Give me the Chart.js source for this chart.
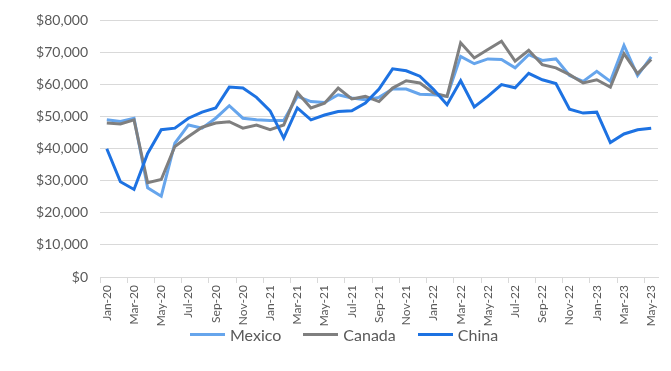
<!DOCTYPE html>
<html>
<head>
<meta charset="utf-8">
<script src="https://cdn.jsdelivr.net/npm/chart.js@4.4.1/dist/chart.umd.min.js"></script>
<style>
    html, body { margin: 0; padding: 0; background: #ffffff; }
    #wrap { width: 671px; height: 371px; position: relative; }
    #legend {
        position: absolute;
        left: 190px;
        top: 323px;
        display: flex;
        gap: 22px;
        font-family: Lato, sans-serif;
        font-size: 16px;
        color: #595959;
    }
    #legend .item { display: flex; align-items: center; gap: 5px; height: 22px; }
    #legend .swatch { width: 35px; height: 3px; }
</style>
</head>
<body>
<div id="wrap">
    <canvas id="tradeChart"></canvas>
    <div id="legend"></div>
</div>
<script>

const months = [
    "Jan-20", "Feb-20", "Mar-20", "Apr-20", "May-20", "Jun-20", "Jul-20", "Aug-20", "Sep-20", "Oct-20", "Nov-20", "Dec-20",
    "Jan-21", "Feb-21", "Mar-21", "Apr-21", "May-21", "Jun-21", "Jul-21", "Aug-21", "Sep-21", "Oct-21", "Nov-21", "Dec-21",
    "Jan-22", "Feb-22", "Mar-22", "Apr-22", "May-22", "Jun-22", "Jul-22", "Aug-22", "Sep-22", "Oct-22", "Nov-22", "Dec-22",
    "Jan-23", "Feb-23", "Mar-23", "Apr-23", "May-23"
];

const mexico = [
    49000, 48500, 49500, 27800, 25200, 41700, 47400, 46400, 49500, 53400, 49500, 49000,
    48800, 48800, 56300, 54700, 54400, 56800, 55800, 55300, 56000, 58600, 58600, 57000,
    56800, 56300, 68800, 66500, 68000, 67800, 65200, 69300, 67500, 68000, 62800, 61000,
    64100, 61000, 72200, 62800, 68600
];

const canada = [
    48000, 47700, 49000, 29400, 30400, 40700, 43800, 46700, 48000, 48400, 46400, 47400,
    45900, 47400, 57500, 52700, 54200, 58900, 55500, 56300, 54700, 58900, 61200, 60500,
    57400, 56300, 73000, 68300, 70900, 73500, 67300, 70700, 66200, 65200, 63100, 60500,
    61500, 59200, 69600, 63400, 67800
];

const china = [
    40000, 29700, 27300, 38500, 45900, 46400, 49500, 51400, 52700, 59200, 58900, 56000,
    51800, 43300, 52700, 49000, 50500, 51600, 51800, 54200, 58600, 64900, 64300, 62600,
    58500, 53700, 61200, 53000, 56300, 60000, 59000, 63500, 61500, 60300, 52300, 51100,
    51400, 41900, 44600, 45900, 46400
];

const textColor = "#595959";
const gridColor = "#d9d9d9";

function line(label, values, color, order) {
    return {
        label: label,
        data: values,
        borderColor: color,
        backgroundColor: color,
        borderWidth: 3,
        pointRadius: 0,
        tension: 0,
        order: order
    };
}

const ctx = document.getElementById("tradeChart").getContext("2d");

const chart = new Chart(ctx, {

    type: "line",

    data: {
        labels: months,
        datasets: [
            line("Mexico", mexico, "#66a5ec", 2),
            line("Canada", canada, "#7f7f7f", 1),
            line("China", china, "#1d72e2", 0)
        ]
    },

    options: {

        responsive: true,
        maintainAspectRatio: false,
        animation: false,

        layout: {
            padding: { left: 36, right: 13, top: 13, bottom: 42 }
        },

        scales: {

            x: {
                offset: true,
                border: { color: gridColor },
                grid: {
                    offset: true,
                    drawOnChartArea: false,
                    tickLength: 6,
                    color: (c) => c.index % 2 === 0 ? gridColor : "transparent"
                },
                ticks: {
                    autoSkip: false,
                    maxRotation: 90,
                    minRotation: 90,
                    padding: 2,
                    color: textColor,
                    font: { family: "Lato", size: 12 },
                    callback: function (value, index) {
                        return index % 2 === 0 ? this.getLabelForValue(value) : "";
                    }
                },
                afterFit: (axis) => { axis.height = 52; }
            },

            y: {
                min: 0,
                max: 80000,
                border: { display: false },
                grid: { color: gridColor, drawTicks: false },
                ticks: {
                    stepSize: 10000,
                    padding: 12,
                    color: textColor,
                    font: { family: "Lato", size: 14 },
                    callback: (v) => "$" + v.toLocaleString("en-US")
                },
                afterFit: (axis) => { axis.width = 64; }
            }

        },

        plugins: {
            tooltip: { enabled: false },
            legend: { display: false }
        }

    }

});

// simple html legend, built from the datasets
const legendBox = document.getElementById("legend");

chart.data.datasets.forEach((ds) => {
    const item = document.createElement("div");
    item.className = "item";
    const swatch = document.createElement("span");
    swatch.className = "swatch";
    swatch.style.background = ds.borderColor;
    const text = document.createElement("span");
    text.textContent = ds.label;
    item.appendChild(swatch);
    item.appendChild(text);
    legendBox.appendChild(item);
});

</script>
</body>
</html>
